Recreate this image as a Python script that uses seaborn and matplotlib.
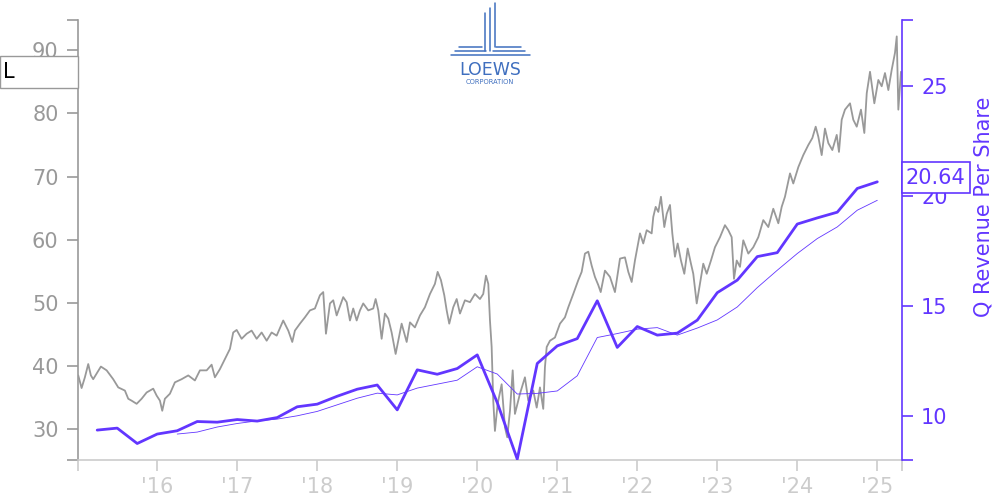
import numpy as np
import pandas as pd
import matplotlib.pyplot as plt
import seaborn as sns
from matplotlib.patches import Rectangle

# Daily close (decimal year)
price_year = [
    2015.013, 2015.055, 2015.096, 2015.138, 2015.171, 2015.200, 2015.296, 2015.368, 2015.450, 2015.513,
    2015.596, 2015.638, 2015.680, 2015.743, 2015.805, 2015.868, 2015.950, 2015.993, 2016.034, 2016.063,
    2016.096, 2016.159, 2016.221, 2016.305, 2016.388, 2016.471, 2016.534, 2016.618, 2016.680, 2016.721,
    2016.784, 2016.846, 2016.909, 2016.950, 2016.993, 2017.055, 2017.118, 2017.180, 2017.243, 2017.305,
    2017.368, 2017.430, 2017.493, 2017.575, 2017.638, 2017.688, 2017.721, 2017.784, 2017.846, 2017.909,
    2017.971, 2018.034, 2018.075, 2018.109, 2018.159, 2018.200, 2018.243, 2018.325, 2018.368, 2018.409,
    2018.450, 2018.493, 2018.534, 2018.575, 2018.638, 2018.700, 2018.730, 2018.763, 2018.805, 2018.846,
    2018.888, 2018.930, 2018.980, 2019.013, 2019.055, 2019.118, 2019.159, 2019.221, 2019.284, 2019.346,
    2019.409, 2019.471, 2019.505, 2019.546, 2019.588, 2019.618, 2019.650, 2019.700, 2019.743, 2019.784,
    2019.846, 2019.909, 2019.971, 2020.034, 2020.075, 2020.109, 2020.138, 2020.159, 2020.180, 2020.200,
    2020.221, 2020.255, 2020.305, 2020.346, 2020.375, 2020.409, 2020.443, 2020.471, 2020.534, 2020.596,
    2020.638, 2020.700, 2020.743, 2020.784, 2020.825, 2020.846, 2020.868, 2020.909, 2020.971, 2021.034,
    2021.096, 2021.138, 2021.200, 2021.263, 2021.305, 2021.346, 2021.388, 2021.430, 2021.471, 2021.513,
    2021.543, 2021.596, 2021.659, 2021.721, 2021.784, 2021.846, 2021.888, 2021.930, 2021.971, 2022.034,
    2022.075, 2022.118, 2022.180, 2022.200, 2022.230, 2022.263, 2022.296, 2022.338, 2022.368, 2022.409,
    2022.438, 2022.471, 2022.505, 2022.546, 2022.588, 2022.630, 2022.671, 2022.700, 2022.743, 2022.784,
    2022.825, 2022.868, 2022.921, 2022.971, 2023.034, 2023.096, 2023.138, 2023.180, 2023.209, 2023.243,
    2023.284, 2023.325, 2023.388, 2023.450, 2023.513, 2023.575, 2023.638, 2023.700, 2023.763, 2023.805,
    2023.846, 2023.909, 2023.950, 2024.013, 2024.075, 2024.138, 2024.188, 2024.230, 2024.263, 2024.305,
    2024.346, 2024.388, 2024.438, 2024.493, 2024.521, 2024.555, 2024.596, 2024.659, 2024.700, 2024.743,
    2024.796, 2024.838, 2024.868, 2024.909, 2024.963, 2025.013, 2025.055, 2025.096, 2025.138, 2025.180,
    2025.221, 2025.243, 2025.263, 2025.296,
]
price_close = [
    38.5, 36.5, 38.2, 40.3, 38.5, 37.9, 39.9, 39.3, 37.9, 36.6,
    36.1, 34.8, 34.5, 34.0, 34.8, 35.8, 36.4, 35.3, 34.5, 32.9,
    34.8, 35.6, 37.4, 37.9, 38.5, 37.7, 39.3, 39.3, 40.2, 38.2,
    39.5, 41.1, 42.7, 45.3, 45.7, 44.3, 45.1, 45.6, 44.3, 45.3,
    44.0, 45.3, 44.8, 47.2, 45.6, 43.8, 45.6, 46.7, 47.7, 48.8,
    49.1, 51.2, 51.7, 45.1, 49.9, 50.4, 48.0, 50.9, 50.1, 47.2,
    49.1, 47.2, 48.8, 49.9, 48.8, 49.1, 50.6, 48.8, 44.3, 48.3,
    47.5, 45.3, 41.9, 44.0, 46.7, 43.8, 46.9, 46.1, 48.0, 49.3,
    51.4, 53.0, 54.9, 53.6, 51.2, 48.8, 46.7, 49.3, 50.6, 48.3,
    50.4, 50.1, 51.4, 50.6, 51.4, 54.3, 53.0, 47.2, 43.0, 34.5,
    29.7, 34.0, 37.1, 30.3, 28.7, 32.9, 39.3, 32.4, 35.6, 38.2,
    34.5, 36.1, 33.4, 36.6, 33.2, 39.8, 43.0, 44.0, 44.5, 46.7,
    47.7, 49.3, 51.4, 53.6, 54.9, 57.8, 58.1, 55.9, 54.1, 52.8,
    51.7, 55.1, 54.1, 51.7, 57.0, 57.2, 54.9, 53.3, 56.7, 61.0,
    59.4, 61.5, 61.0, 63.6, 65.2, 64.4, 66.8, 62.0, 64.1, 65.5,
    61.0, 57.3, 59.4, 56.7, 54.6, 58.6, 56.2, 54.6, 49.9, 53.0,
    56.2, 54.6, 56.7, 58.8, 60.4, 62.3, 61.5, 60.4, 53.8, 56.7,
    55.7, 59.9, 57.8, 58.8, 60.4, 63.1, 62.0, 64.9, 62.6, 65.2,
    66.8, 70.5, 68.9, 71.5, 73.4, 75.0, 76.1, 77.9, 76.3, 73.4,
    77.6, 75.3, 74.2, 76.6, 73.9, 79.0, 80.6, 81.6, 79.0, 77.9,
    80.6, 76.9, 83.2, 86.6, 81.6, 85.3, 84.3, 86.4, 83.7, 86.9,
    89.6, 92.2, 80.6, 86.6,
]

# Quarterly revenue per share
rev_year = [
    2015.25, 2015.50, 2015.75, 2016.00, 2016.25, 2016.50, 2016.75, 2017.00, 2017.25, 2017.50,
    2017.75, 2018.00, 2018.25, 2018.50, 2018.75, 2019.00, 2019.25, 2019.50, 2019.75, 2020.00,
    2020.25, 2020.50, 2020.75, 2021.00, 2021.25, 2021.50, 2021.75, 2022.00, 2022.25, 2022.50,
    2022.75, 2023.00, 2023.25, 2023.50, 2023.75, 2024.00, 2024.25, 2024.50, 2024.75, 2025.00,
]
rev_q = [
    9.35, 9.44, 8.74, 9.17, 9.32, 9.74, 9.71, 9.83, 9.76, 9.92,
    10.41, 10.53, 10.89, 11.21, 11.40, 10.27, 12.09, 11.89, 12.15, 12.77,
    10.60, 8.03, 12.38, 13.18, 13.51, 15.23, 13.11, 14.06, 13.67, 13.76,
    14.35, 15.60, 16.17, 17.24, 17.42, 18.72, 19.00, 19.26, 20.34, 20.64,
]

# Trailing four-quarter average
ttm_year = rev_year[4:]
ttm_avg = [
    9.17, 9.26, 9.49, 9.65, 9.77, 9.85, 10.00, 10.20, 10.50, 10.80,
    11.03, 10.95, 11.26, 11.44, 11.62, 12.23, 11.90, 10.99, 11.02, 11.13,
    11.82, 13.56, 13.74, 13.94, 14.01, 13.67, 13.99, 14.36, 14.95, 15.83,
    16.62, 17.38, 18.06, 18.59, 19.35, 19.80,
]

year_ticks = list(range(2016, 2026))
year_labels = ["'16", "'17", "'18", "'19", "'20", "'21", "'22", "'23", "'24", "'25"]
left_ticks = [30, 40, 50, 60, 70, 80, 90]
right_ticks = [10, 15, 20, 25]
ticker = 'L'

PURPLE = '#6236ff'
GRAY = '#999999'
LIGHT = '#cccccc'
LOGO = '#3f6fbf'

sns.set_style('ticks')
plt.rcParams['font.family'] = ['DejaVu Sans']

fig = plt.figure(figsize=(10, 5), dpi=100)
ax = fig.add_axes([0.078, 0.08, 0.8237, 0.88])
ax2 = ax.twinx()

sns.lineplot(x=price_year, y=price_close, ax=ax, color=GRAY, lw=1.3)
sns.lineplot(x=ttm_year, y=ttm_avg, ax=ax2, color=PURPLE, lw=0.6)
sns.lineplot(x=rev_year, y=rev_q, ax=ax2, color=PURPLE, lw=2.0)

x0, x1 = 2015.01, 2025.305
y0, y1 = 25.1, 94.8
r0, r1 = 7.99, 28.0
ax.set_xlim(x0, x1)
ax.set_ylim(y0, y1)
ax2.set_ylim(r0, r1)

ax.set_xticks([x0] + year_ticks + [x1])
ax.set_xticklabels([''] + year_labels + [''])
ax.set_yticks([y0] + left_ticks + [y1])
ax.set_yticklabels([''] + [str(v) for v in left_ticks] + [''])
ax2.set_yticks([r0] + right_ticks + [r1])
ax2.set_yticklabels([''] + [str(v) for v in right_ticks] + [''])

for s in ['top', 'right']:
    ax.spines[s].set_visible(False)
for s in ['top', 'left', 'bottom']:
    ax2.spines[s].set_visible(False)
ax.spines['left'].set_color(GRAY)
ax.spines['bottom'].set_color(LIGHT)
ax2.spines['right'].set_color(PURPLE)
for sp in [ax.spines['left'], ax.spines['bottom'], ax2.spines['right']]:
    sp.set_linewidth(1.2)

ax.tick_params(axis='y', colors=GRAY, length=8, width=1.2, labelsize=15, pad=6)
ax.tick_params(axis='x', colors=LIGHT, length=8, width=1.2, labelsize=15, pad=4)
ax2.tick_params(axis='y', colors=PURPLE, length=8, width=1.2, labelsize=15, pad=6)
ax.set_xlabel('')
ax.set_ylabel('')
ax2.set_ylabel('Q Revenue Per Share', color=PURPLE, fontsize=15)
ax2.yaxis.set_label_coords(1.087, 0.575)

# ticker box on the left at the last close
yt = ax.get_yaxis_transform()
last_price = price_close[-1]
bw, bh = 0.0947, 5.1
ax.add_patch(Rectangle((-bw, last_price - bh / 2), bw, bh, transform=yt,
                       facecolor='white', edgecolor=GRAY, lw=1, clip_on=False, zorder=5))
ax.text(-bw + 0.004, last_price, ticker, transform=yt, ha='left', va='center',
        fontsize=15, color='black', zorder=6)

# last revenue value box on the right
yt2 = ax2.get_yaxis_transform()
last_rev = rev_q[-1]
rw, rh = 0.0826, 1.44
ax2.add_patch(Rectangle((1.0, last_rev + 0.19 - rh / 2), rw, rh, transform=yt2,
                        facecolor='white', edgecolor=PURPLE, lw=1.2, clip_on=False, zorder=5))
ax2.text(1.0 + rw / 2, last_rev + 0.19, f'{last_rev:.2f}', transform=yt2, ha='center', va='center',
         fontsize=15, color=PURPLE, zorder=6)

# logo
lg = fig.add_axes([0.43, 0.82, 0.12, 0.18])
lg.set_xlim(430, 550)
lg.set_ylim(90, 0)
lg.axis('off')
logo_lines = [
    ([450.7, 530], [55, 55]),
    ([455, 486], [50.7, 50.7]), ([493, 525], [50.7, 50.7]),
    ([459, 482], [46.5, 46.5]), ([496, 521], [46.5, 46.5]),
    ([484.5, 484.5], [12.7, 51]), ([489.5, 489.5], [8.3, 51]), ([494.5, 494.5], [3.3, 46.5]),
]
for lx, ly in logo_lines:
    lg.plot(lx, ly, color=LOGO, lw=1.1)
lg.text(490, 70, 'LOEWS', color=LOGO, fontsize=12.5, ha='center', va='center')
lg.text(490, 81.5, 'CORPORATION', color=LOGO, fontsize=4.8, ha='center', va='center')

fig.savefig('out.png', dpi=100)
